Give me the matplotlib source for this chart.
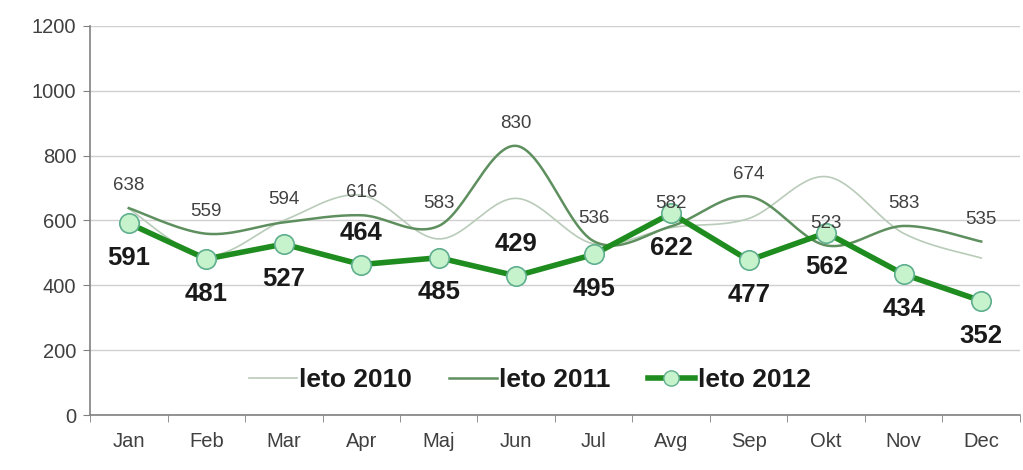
import numpy as np
import matplotlib
matplotlib.use('Agg')
import matplotlib.pyplot as plt
from matplotlib.lines import Line2D

plt.rcParams['font.family'] = ['Liberation Sans', 'DejaVu Sans']

months = ['Jan', 'Feb', 'Mar', 'Apr', 'Maj', 'Jun', 'Jul', 'Avg', 'Sep', 'Okt', 'Nov', 'Dec']
leto_2010 = [636, 492, 600, 678, 543, 668, 528, 578, 606, 735, 560, 484]
leto_2011 = [638, 559, 594, 616, 583, 830, 536, 582, 674, 523, 583, 535]
leto_2012 = [591, 481, 527, 464, 485, 429, 495, 622, 477, 562, 434, 352]
# where the 2012 label goes: 1 above the point, -1 below
pos_2012 = [-1, -1, -1, 1, -1, 1, -1, -1, -1, -1, -1, -1]


def smooth(xs, ys, n=30):
    # excel-like smoothed line (bezier through the points)
    xs = np.asarray(xs, float)
    ys = np.asarray(ys, float)
    px = np.concatenate([[xs[0]], xs, [xs[-1]]])
    py = np.concatenate([[ys[0]], ys, [ys[-1]]])
    out_x, out_y = [], []
    t = np.linspace(0, 1, n)
    for i in range(1, len(px) - 2):
        p0 = np.array([px[i], py[i]])
        p3 = np.array([px[i + 1], py[i + 1]])
        p1 = p0 + (np.array([px[i + 1], py[i + 1]]) - np.array([px[i - 1], py[i - 1]])) / 6
        p2 = p3 - (np.array([px[i + 2], py[i + 2]]) - np.array([px[i], py[i]])) / 6
        b = ((1 - t) ** 3)[:, None] * p0 + (3 * (1 - t) ** 2 * t)[:, None] * p1 \
            + (3 * (1 - t) * t ** 2)[:, None] * p2 + (t ** 3)[:, None] * p3
        out_x.extend(b[:, 0])
        out_y.extend(b[:, 1])
    return out_x, out_y


fig = plt.figure(figsize=(10.23, 4.70), dpi=100)
ax = fig.add_axes([0.088, 0.117, 0.909, 0.828])

x = np.arange(len(months))
c10 = '#b9cbb9'
c11 = '#5e8f5e'
c12 = '#1e8c1e'

sx, sy = smooth(x, leto_2010)
ax.plot(sx, sy, color=c10, lw=1.2, zorder=2)
sx, sy = smooth(x, leto_2011)
ax.plot(sx, sy, color=c11, lw=1.8, zorder=3)
ax.plot(x, leto_2012, color=c12, lw=4, zorder=4,
        marker='o', ms=14, mfc='#c6f2cc', mec='#5faf8f', mew=1.2)

for i, v in enumerate(leto_2011):
    ax.annotate(str(v), (x[i], v), xytext=(0, 10), textcoords='offset points',
                ha='center', va='bottom', fontsize=13.5, color='#404040', zorder=5)
for i, v in enumerate(leto_2012):
    off = 23 if pos_2012[i] > 0 else -25
    ax.annotate(str(v), (x[i], v), xytext=(0, off), textcoords='offset points',
                ha='center', va='center', fontsize=18.5, fontweight='bold',
                color='#1a1a1a', zorder=5)

ax.set_xlim(-0.5, len(months) - 0.5)
ax.set_ylim(0, 1200)
ax.set_yticks(range(0, 1201, 200))
ax.set_xticks(x)
ax.set_xticklabels(months)
ax.set_xticks(np.arange(-0.5, len(months), 1), minor=True)
ax.tick_params(axis='x', which='major', length=0, pad=12, labelsize=14.5, labelcolor='#404040')
ax.tick_params(axis='x', which='minor', length=5, color='#808080', direction='out')
ax.tick_params(axis='y', length=5, color='#808080', labelsize=14.5, labelcolor='#404040', pad=5)
ax.grid(axis='y', color='#d0d0d0', lw=1)
ax.set_axisbelow(True)
for s in ['top', 'right']:
    ax.spines[s].set_visible(False)
for s in ['left', 'bottom']:
    ax.spines[s].set_color('#808080')
    ax.spines[s].set_linewidth(1.2)

handles = [Line2D([], [], color=c10, lw=1.2),
           Line2D([], [], color=c11, lw=1.8),
           Line2D([], [], color=c12, lw=4, marker='o', ms=11, mfc='#c6f2cc', mec='#5faf8f')]
leg = ax.legend(handles, ['leto 2010', 'leto 2011', 'leto 2012'], loc='center',
                bbox_to_anchor=(0.473, 0.09), ncol=3, frameon=False, fontsize=19,
                handlelength=1.8, handletextpad=0.1, columnspacing=1.4)
for t in leg.get_texts():
    t.set_fontweight('bold')
    t.set_color('#1a1a1a')

fig.savefig('out.png', dpi=100)
